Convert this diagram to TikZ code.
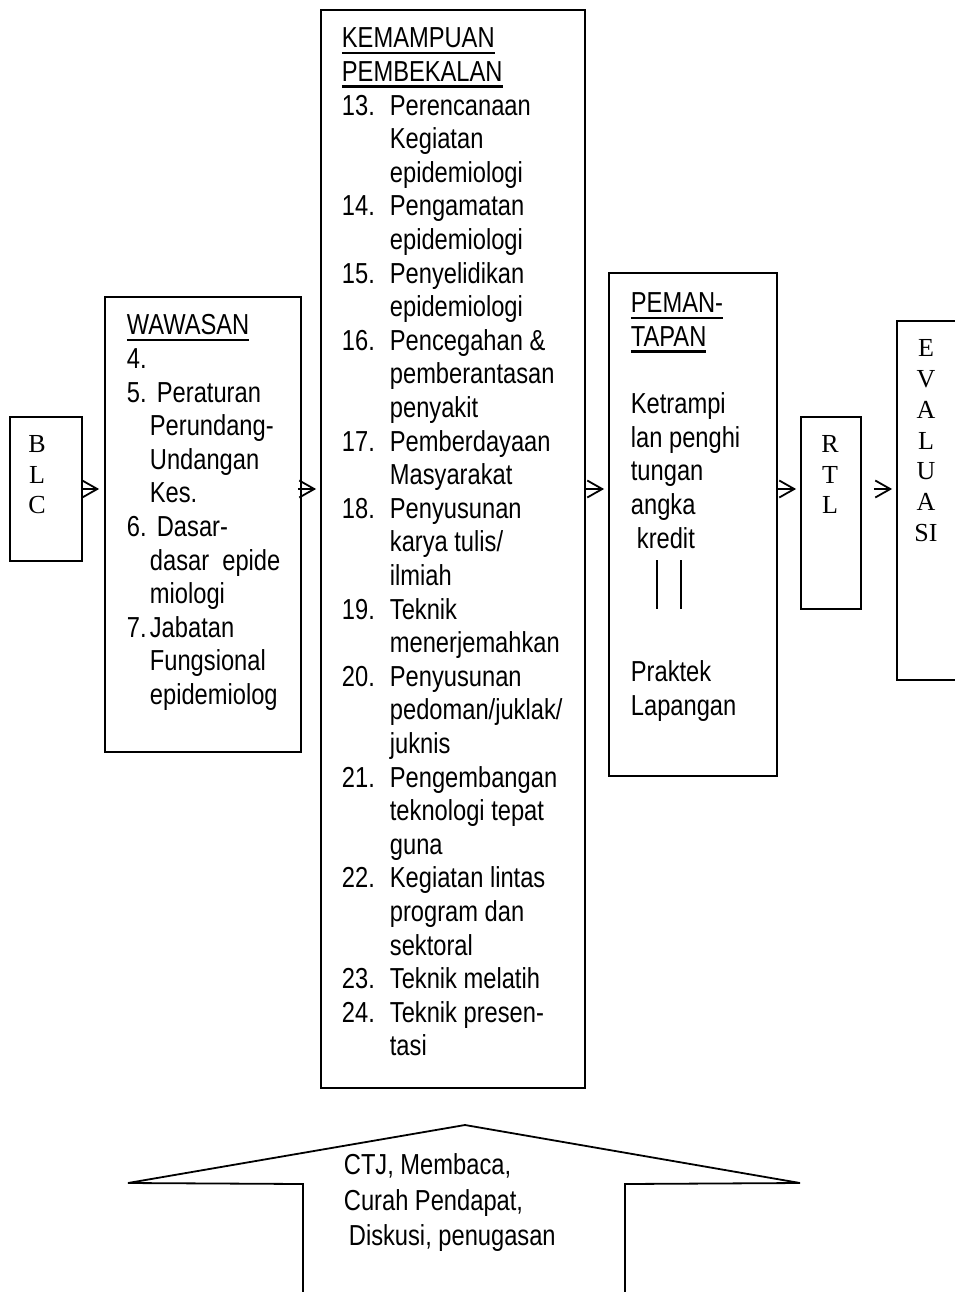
\documentclass[tikz,border=0pt]{standalone}
\usepackage{fontspec}
\setmainfont{Liberation Sans}[FakeStretch=0.82]
\newfontfamily\boxserif{Liberation Serif}
\usetikzlibrary{arrows.meta,positioning}
\newcommand{\ulhead}[1]{\setbox0\hbox{#1}\rlap{\rule[-6.5bp]{\wd0}{2.8bp}}\box0}

\begin{document}
\begin{tikzpicture}[x=1bp, y=-1bp, line width=1.8bp]
\tikzstyle{box} = [rectangle, draw, inner sep=0pt]
\tikzstyle{arrow} = [-{Straight Barb[length=15bp, width=17bp]}]
\tikzstyle{txt} = [inner sep=0pt, anchor=north west, font=\fontsize{28.9bp}{33.6bp}\selectfont]
\tikzstyle{lett} = [inner sep=0pt, anchor=north, font=\boxserif\fontsize{26bp}{30.5bp}\selectfont]

\path[use as bounding box, clip] (0,0) rectangle (955,1292);

% boxes
\node (blc) [box, minimum width=72bp, minimum height=144bp] at (46,489) {};
\node (waw) [box, minimum width=196bp, minimum height=455bp] at (203,524.5) {};
\node (kem) [box, minimum width=264bp, minimum height=1078bp] at (453,549) {};
\node (pem) [box, minimum width=168bp, minimum height=503bp] at (693,524.5) {};
\node (rtl) [box, minimum width=60bp, minimum height=192bp] at (831,513) {};
\node (eva) [box, minimum width=110bp, minimum height=359bp] at (952,500.5) {};

% texts
\node (blctext) [lett] at (37,430.6) {\begin{tabular}{@{}c@{}}B\\L\\C\end{tabular}};
\node (rtltext) [lett] at (830,430.6) {\begin{tabular}{@{}c@{}}R\\T\\L\end{tabular}};
\node (evatext) [lett, font=\boxserif\fontsize{26bp}{30.7bp}\selectfont] at (926,334.5)
  {\begin{tabular}{@{}c@{}}E\\V\\A\\L\\U\\A\\SI\end{tabular}};

\node (wawtext) [txt] at (126,310.5) {\begin{tabular}{@{}p{23bp}@{}l@{}}
\multicolumn{2}{@{}l@{}}{\ulhead{WAWASAN}}\\
4. & \\
5. & \hspace{7bp}Peraturan\\
 & Perundang-\\
 & Undangan\\
 & Kes.\\
6. & \hspace{7bp}Dasar-\\
 & dasar~~epide\\
 & miologi\\
7. & Jabatan\\
 & Fungsional\\
 & epidemiolog
\end{tabular}};

\node (kemtext) [txt] at (341,23.5) {\begin{tabular}{@{}p{48bp}@{}l@{}}
\multicolumn{2}{@{}l@{}}{\ulhead{KEMAMPUAN}}\\
\multicolumn{2}{@{}l@{}}{\ulhead{PEMBEKALAN}}\\
13. & Perencanaan\\
 & Kegiatan\\
 & epidemiologi\\
14. & Pengamatan\\
 & epidemiologi\\
15. & Penyelidikan\\
 & epidemiologi\\
16. & Pencegahan \&\\
 & pemberantasan\\
 & penyakit\\
17. & Pemberdayaan\\
 & Masyarakat\\
18. & Penyusunan\\
 & karya tulis/\\
 & ilmiah\\
19. & Teknik\\
 & menerjemahkan\\
20. & Penyusunan\\
 & pedoman/juklak/\\
 & juknis\\
21. & Pengembangan\\
 & teknologi tepat\\
 & guna\\
22. & Kegiatan lintas\\
 & program dan\\
 & sektoral\\
23. & Teknik melatih\\
24. & Teknik presen-\\
 & tasi
\end{tabular}};

\node (pemtext) [txt] at (630,288.5) {\begin{tabular}{@{}l@{}}
\ulhead{PEMAN-}\\
\ulhead{TAPAN}\\
\\
Ketrampi\\
lan penghi\\
tungan\\
angka\\
\hspace{6bp}kredit
\end{tabular}};
\node (praktek) [txt] at (630,657.5) {\begin{tabular}{@{}l@{}}Praktek\\Lapangan\end{tabular}};
\draw (657,560) -- (657,609);
\draw (681,560) -- (681,609);

% flow between boxes
\coordinate (lvl) at (0,489);
\draw[arrow, shorten >=5bp] (blc.east) -- (waw.west |- lvl);
\draw[arrow, shorten <=-4bp, shorten >=4bp] (waw.east |- lvl) -- (kem.west |- lvl);
\draw[arrow, shorten >=4bp] (kem.east |- lvl) -- (pem.west |- lvl);
\draw[arrow, shorten >=4bp] (pem.east |- lvl) -- (rtl.west |- lvl);
\draw[arrow, shorten <=12bp, shorten >=4bp] (rtl.east |- lvl) -- (eva.west |- lvl);

% big arrow from below
\draw (303,1300) -- (303,1184) -- (128,1183) -- (465,1125) -- (800,1183) -- (625,1184) -- (625,1300);
\node (metode) [txt, font=\fontsize{28.9bp}{35.5bp}\selectfont] at (343,1149.2) {\begin{tabular}{@{}l@{}}
CTJ, Membaca,\\
Curah Pendapat,\\
\hspace{5bp}Diskusi, penugasan
\end{tabular}};
\end{tikzpicture}
\end{document}
